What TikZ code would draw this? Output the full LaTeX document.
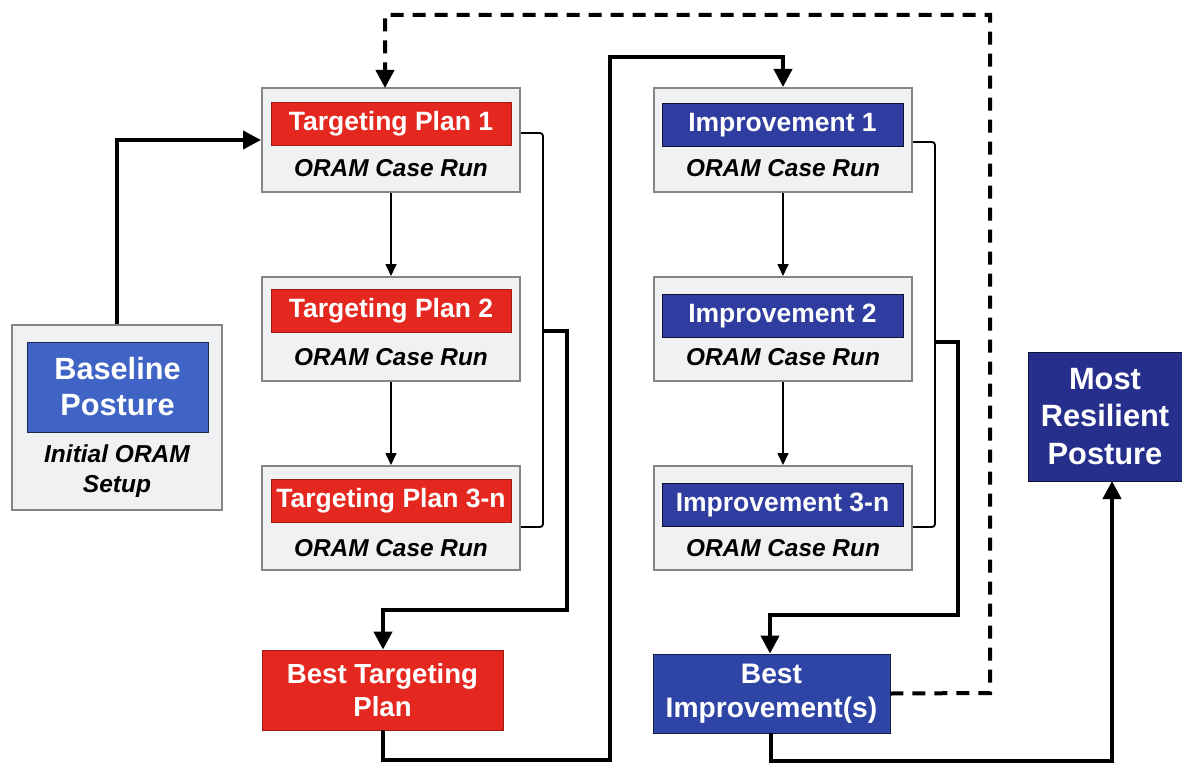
\documentclass[tikz,border=0pt]{standalone}
\usepackage{fontspec}
\setmainfont{Liberation Sans}
\usetikzlibrary{arrows.meta}
\definecolor{tred}{HTML}{E5281F}
\definecolor{tredb}{HTML}{9E1B14}
\definecolor{iblue}{HTML}{2E3D9F}
\definecolor{bblue}{HTML}{3F64C6}
\definecolor{mblue}{HTML}{272F8C}
\definecolor{biblue}{HTML}{2F45A6}
\definecolor{boxfill}{HTML}{EFF1F3}
\definecolor{boxline}{HTML}{858585}
\tikzset{
  outer/.style={draw=boxline, fill=boxfill, line width=2pt, minimum width=258pt, minimum height=104pt, inner sep=0pt},
  redlab/.style={draw=tredb, fill=tred, line width=0.8pt, minimum width=240pt, minimum height=43pt, inner sep=0pt, text=white, font=\fontsize{26.5}{28}\selectfont\bfseries},
  bluelab/.style={draw=black!70!iblue, fill=iblue, line width=0.8pt, minimum width=241pt, minimum height=43pt, inner sep=0pt, text=white, font=\fontsize{26.5}{28}\selectfont\bfseries},
  caserun/.style={font=\fontsize{24.4}{26}\selectfont\bfseries\itshape, inner sep=0pt},
  bigbox/.style={line width=0.8pt, inner sep=0pt, text=white, align=center, font=\fontsize{28}{34}\selectfont\bfseries},
  thin/.style={line width=1.6pt, -{Triangle[length=12pt,width=11pt]}},
  thick/.style={line width=4pt, -{Triangle[length=18pt,width=18pt]}},
  brk/.style={line width=1.8pt, rounded corners=3pt},
}
\begin{document}
\begin{tikzpicture}[x=1pt,y=-1pt]
\useasboundingbox (0,0) rectangle (1182,765);
% baseline
\node[draw=boxline, fill=boxfill, line width=2pt, minimum width=210pt, minimum height=185pt, inner sep=0pt] (base) at (117,417.5) {};
\node[bigbox, draw=black!60!bblue, fill=bblue, minimum width=181pt, minimum height=90pt, font=\fontsize{30.7}{36}\selectfont\bfseries] (basel) at (117.5,387) {Baseline\\Posture};
\node[caserun, align=center, font=\fontsize{24.5}{30}\selectfont\bfseries\itshape] (init) at (117,471) {Initial ORAM\\Setup};
% targeting plans
\node[outer] (tp1) at (391,140) {};
\node[redlab] (tp1l) at (391,123.5) {Targeting Plan 1};
\node[caserun] (tp1c) at (391,168) {ORAM Case Run};
\node[outer] (tp2) at (391,329) {};
\node[redlab] (tp2l) at (391,311) {Targeting Plan 2};
\node[caserun] (tp2c) at (391,357) {ORAM Case Run};
\node[outer] (tp3) at (391,518) {};
\node[redlab] (tp3l) at (391,501) {Targeting Plan 3-n};
\node[caserun] (tp3c) at (391,548) {ORAM Case Run};
% improvements
\node[outer] (im1) at (783,140) {};
\node[bluelab] (im1l) at (782.5,125) {Improvement 1};
\node[caserun] (im1c) at (783,168) {ORAM Case Run};
\node[outer] (im2) at (783,329) {};
\node[bluelab] (im2l) at (782.5,316) {Improvement 2};
\node[caserun] (im2c) at (783,357) {ORAM Case Run};
\node[outer] (im3) at (783,518) {};
\node[bluelab] (im3l) at (782.5,505) {Improvement 3-n};
\node[caserun] (im3c) at (783,548) {ORAM Case Run};
% best boxes
\node[bigbox, draw=tredb, fill=tred, minimum width=241pt, minimum height=80pt, font=\fontsize{27.6}{33}\selectfont\bfseries] (btp) at (382.5,690) {Best Targeting\\Plan};
\node[bigbox, draw=black!60!biblue, fill=biblue, minimum width=237pt, minimum height=79pt, font=\fontsize{28.2}{34}\selectfont\bfseries] (bim) at (771.5,693.5) {Best\\Improvement(s)};
\node[bigbox, draw=black!60!mblue, fill=mblue, minimum width=154pt, minimum height=129pt, font=\fontsize{30.8}{37.5}\selectfont\bfseries] (mrp) at (1105,416.5) {Most\\Resilient\\Posture};
% coordinates
\coordinate (b1a) at (tp1.east |- 0,133);
\coordinate (b1b) at (tp3.east |- 0,527);
\coordinate (b1m) at (543,331);
\coordinate (b2a) at (im1.east |- 0,142);
\coordinate (b2b) at (im3.east |- 0,527);
\coordinate (b2m) at (935,342);
% connectors
\draw[thick] (base.north) |- (tp1.west);
\draw[thin] (tp1.south) -- (tp2.north);
\draw[thin] (tp2.south) -- (tp3.north);
\draw[thin] (im1.south) -- (im2.north);
\draw[thin] (im2.south) -- (im3.north);
\draw[brk] (b1a) -- (543,133) -- (543,527) -- (b1b);
\draw[brk] (b2a) -- (935,142) -- (935,527) -- (b2b);
\draw[thick] (b1m) -- (567,331) -- (567,610) -- (383,610) -- (383,610 |- btp.north);
\draw[thick] (b2m) -- (958,342) -- (958,615) -- (770,615) -- (770,615 |- bim.north);
\draw[thick] (383,730) -- (383,760) -- (610,760) -- (610,57) -- (783,57) -- (im1.north);
\draw[thick] (771,733) -- (771,761) -- (1112,761) -- (1112,481);
\draw[thick, dashed, dash pattern=on 13pt off 9pt] (bim.east) -- (990,693) -- (990,15) -- (385,15) -- (385,88);
\end{tikzpicture}
\end{document}
